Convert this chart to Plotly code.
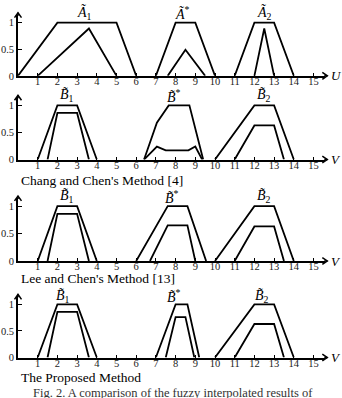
import plotly.graph_objects as go

W, H = 342, 398

# ---------------- data ----------------
x_tick_vals = list(range(1, 16))
y_tick_vals = [0, 0.5, 1]
y_tick_text = ["0", "0.5", "1"]

# Panel 1 (U universe)
A1_outer_x = [0, 2, 5, 6];          A1_outer_y = [0, 1, 1, 0]
A1_inner_x = [1, 3.6, 5];           A1_inner_y = [0, 0.89, 0]
Astar_outer_x = [7, 8, 9, 10];      Astar_outer_y = [0, 1, 1, 0]
Astar_inner_x = [7.6, 8.5, 9.5];    Astar_inner_y = [0, 0.49, 0]
A2_outer_x = [11, 12, 13, 14];      A2_outer_y = [0, 1, 1, 0]
A2_inner_x = [12, 12.5, 13];        A2_inner_y = [0, 0.89, 0]

# Common B1 / B2 shapes (panels 2-4)
B1_outer_x = [1, 2, 3, 4];          B1_outer_y = [0, 1, 1, 0]
B1_inner_x = [1.5, 2, 3, 3.6];      B1_inner_y = [0, 0.86, 0.86, 0]
B2_outer_x = [10, 12, 13, 14];      B2_outer_y = [0, 1, 1, 0]
B2_inner_x = [11, 12, 13, 13.5];    B2_inner_y = [0, 0.63, 0.63, 0]

# Panel 2: Chang and Chen's Method
cc_Bstar_outer_x = [6.4, 7.05, 7.65, 8.7, 9.4]
cc_Bstar_outer_y = [0, 0.68, 1, 1, 0]
cc_Bstar_inner_x = [6.4, 7.05, 7.5, 8.65, 9.0, 9.35]
cc_Bstar_inner_y = [0, 0.24, 0.17, 0.17, 0.24, 0]

# Panel 3: Lee and Chen's Method
lc_Bstar_outer_x = [6, 7.6, 8.6, 9.55]
lc_Bstar_outer_y = [0, 1, 1, 0]
lc_Bstar_inner_x = [6.7, 7.6, 8.6, 9.0]
lc_Bstar_inner_y = [0, 0.65, 0.65, 0]

# Panel 4: The Proposed Method
pm_Bstar_outer_x = [7, 8, 8.6, 9.2]
pm_Bstar_outer_y = [0, 1, 1, 0]
pm_Bstar_inner_x = [7.5, 8, 8.5, 8.95]
pm_Bstar_inner_y = [0, 0.76, 0.76, 0]

panel_titles = [
    [("<i>A\u0303</i><sub>1</sub>", 3.4), ("<i>A\u0303</i><sup>*</sup>", 8.35), ("<i>A\u0303</i><sub>2</sub>", 12.5)],
    [("<i>B\u0303</i><sub>1</sub>", 2.5), ("<i>B\u0303</i><sup>*</sup>", 7.9), ("<i>B\u0303</i><sub>2</sub>", 12.5)],
    [("<i>B\u0303</i><sub>1</sub>", 2.5), ("<i>B\u0303</i><sup>*</sup>", 7.8), ("<i>B\u0303</i><sub>2</sub>", 12.5)],
    [("<i>B\u0303</i><sub>1</sub>", 2.3), ("<i>B\u0303</i><sup>*</sup>", 7.9), ("<i>B\u0303</i><sub>2</sub>", 12.4)],
]
axis_names = ["U", "V", "V", "V"]
method_labels = ["Chang and Chen's Method [4]", "Lee and Chen's Method [13]", "The Proposed Method"]
caption = "Fig. 2. A comparison of the fuzzy interpolated results of"

panels = [
    [(A1_outer_x, A1_outer_y), (A1_inner_x, A1_inner_y), (Astar_outer_x, Astar_outer_y),
     (Astar_inner_x, Astar_inner_y), (A2_outer_x, A2_outer_y), (A2_inner_x, A2_inner_y)],
    [(B1_outer_x, B1_outer_y), (B1_inner_x, B1_inner_y), (cc_Bstar_outer_x, cc_Bstar_outer_y),
     (cc_Bstar_inner_x, cc_Bstar_inner_y), (B2_outer_x, B2_outer_y), (B2_inner_x, B2_inner_y)],
    [(B1_outer_x, B1_outer_y), (B1_inner_x, B1_inner_y), (lc_Bstar_outer_x, lc_Bstar_outer_y),
     (lc_Bstar_inner_x, lc_Bstar_inner_y), (B2_outer_x, B2_outer_y), (B2_inner_x, B2_inner_y)],
    [(B1_outer_x, B1_outer_y), (B1_inner_x, B1_inner_y), (pm_Bstar_outer_x, pm_Bstar_outer_y),
     (pm_Bstar_inner_x, pm_Bstar_inner_y), (B2_outer_x, B2_outer_y), (B2_inner_x, B2_inner_y)],
]

# ---------------- layout geometry (pixels) ----------------
X0_PX, UNIT_X = 18, 19.7
X_MAX = 15.6
Y_MAX = 1.15
baselines = [77, 162, 265, 363]
units_y = [54, 55, 55.7, 54]
title_py = [13, 97, 200, 301]
method_label_y = [183, 283, 383]

FONT = "Liberation Serif"


def px(xv):
    return X0_PX + xv * UNIT_X


def pp(pxx, pyy):
    return pxx / W, 1 - pyy / H


def chevron(points):
    parts = []
    for n, (a, c) in enumerate(points):
        fx, fy = pp(a, c)
        parts.append(("M" if n == 0 else "L") + f"{fx:.5f},{fy:.5f}")
    return " ".join(parts)


fig = go.Figure()
layout = dict(
    width=W, height=H, margin=dict(l=0, r=0, t=0, b=0),
    paper_bgcolor="white", plot_bgcolor="white", showlegend=False,
    font=dict(family=FONT, color="black"),
)
annotations = []
shapes_list = []
x_dom = [X0_PX / W, px(X_MAX) / W]

for i, shapes in enumerate(panels):
    k = "" if i == 0 else str(i + 1)
    xa, ya = "x" + k, "y" + k
    for sx, sy in shapes:
        fig.add_trace(go.Scatter(x=sx, y=sy, mode="lines", xaxis=xa, yaxis=ya,
                                 line=dict(color="black", width=1.8), cliponaxis=False,
                                 hoverinfo="skip"))
    b, u = baselines[i], units_y[i]
    y_dom = [1 - b / H, 1 - (b - Y_MAX * u) / H]
    layout["xaxis" + k] = dict(
        domain=x_dom, range=[0, X_MAX], anchor=ya, showline=True, linecolor="black",
        linewidth=1.6, ticks="inside", ticklen=3, tickwidth=1, tickcolor="black",
        tickvals=x_tick_vals, showgrid=False, zeroline=False, ticklabelstandoff=-5,
        tickfont=dict(family=FONT, size=10.5, color="#222"),
    )
    layout["yaxis" + k] = dict(
        domain=y_dom, range=[0, Y_MAX], anchor=xa, showline=True, linecolor="black",
        linewidth=1.6, ticks="inside", ticklen=4, tickwidth=1, tickcolor="black",
        tickvals=y_tick_vals, ticktext=y_tick_text, showgrid=False, zeroline=False,
        tickfont=dict(family=FONT, size=10.5, color="#222"),
    )
    # axis arrowheads (open chevrons) as paper shapes
    tipx = px(X_MAX) + 2
    shapes_list.append(dict(type="path", xref="paper", yref="paper",
                            path=chevron([(tipx - 5, b - 3.5), (tipx, b), (tipx - 5, b + 3.5)]),
                            line=dict(color="black", width=1.5)))
    shapes_list.append(dict(type="line", xref="paper", yref="paper",
                            x0=pp(px(X_MAX) - 1, b)[0], y0=pp(0, b)[1],
                            x1=pp(tipx, b)[0], y1=pp(0, b)[1],
                            line=dict(color="black", width=1.6)))
    tipy = b - Y_MAX * u - 2
    shapes_list.append(dict(type="path", xref="paper", yref="paper",
                            path=chevron([(X0_PX - 3.5, tipy + 5), (X0_PX, tipy), (X0_PX + 3.5, tipy + 5)]),
                            line=dict(color="black", width=1.5)))
    shapes_list.append(dict(type="line", xref="paper", yref="paper",
                            x0=pp(X0_PX, 0)[0], y0=pp(0, tipy + 3)[1],
                            x1=pp(X0_PX, 0)[0], y1=pp(0, tipy)[1],
                            line=dict(color="black", width=1.6)))
    tx, ty = pp(px(X_MAX) + 4, b)
    annotations.append(dict(x=tx, y=ty, xref="paper", yref="paper", text="<i>" + axis_names[i] + "</i>",
                            showarrow=False, xanchor="left", yanchor="middle",
                            font=dict(family=FONT, size=13)))
    for txt, xv in panel_titles[i]:
        tx, ty = pp(px(xv), title_py[i])
        annotations.append(dict(x=tx, y=ty, xref="paper", yref="paper", text=txt, showarrow=False,
                                xanchor="center", yanchor="middle",
                                font=dict(family=FONT, size=14)))

for j, lab in enumerate(method_labels):
    annotations.append(dict(x=19 / W, y=1 - method_label_y[j] / H, xref="paper", yref="paper",
                            text=lab, showarrow=False, xanchor="left", yanchor="middle",
                            font=dict(family=FONT, size=13.5)))
annotations.append(dict(x=173 / W, y=1 - 390 / H, xref="paper", yref="paper", text=caption,
                        showarrow=False, xanchor="center", yanchor="top",
                        font=dict(family=FONT, size=12.5, color="#333")))

layout["annotations"] = annotations
layout["shapes"] = shapes_list
fig.update_layout(**layout)
fig.write_html("out.html")
